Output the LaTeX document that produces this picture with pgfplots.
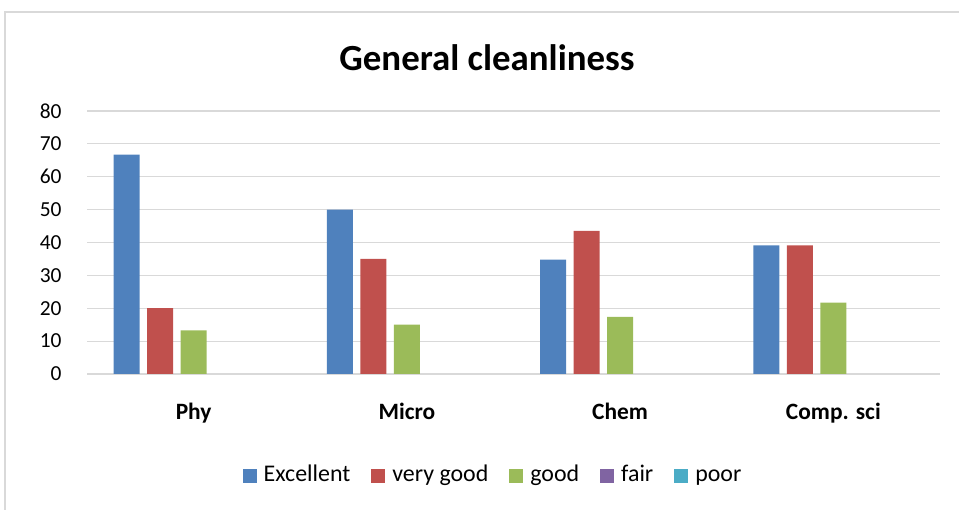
\documentclass[border=0pt]{standalone}
\usepackage{fontspec}
\setmainfont{Carlito}
\usepackage{pgfplots}
\pgfplotsset{compat=1.18}
\definecolor{cA}{HTML}{4F81BD}
\definecolor{cB}{HTML}{C0504D}
\definecolor{cC}{HTML}{9BBB59}
\definecolor{cD}{HTML}{8064A2}
\definecolor{cE}{HTML}{4BACC6}
\definecolor{gridc}{HTML}{D9D9D9}
\begin{document}
\begin{tikzpicture}[x=1bp,y=1bp]
\useasboundingbox (0,0) rectangle (959,510);
\draw[color=gridc, line width=1.5bp] (5,0) -- (5,498) -- (959,498);
\node[font=\fontsize{37}{40}\selectfont\bfseries, anchor=base, inner sep=0] at (487,439) {General cleanliness};
\begin{axis}[
  at={(87bp,136bp)}, anchor=south west,
  scale only axis, width=853bp, height=263bp,
  xmin=-0.5, xmax=3.5, ymin=0, ymax=80,
  ytick={0,10,...,80},
  xtick={0,1,2,3},
  xticklabels={Phy,Micro,Chem,Comp. sci},
  axis line style={draw=none},
  major tick style={draw=none},
  ymajorgrids,
  grid style={color=gridc, line width=1.2bp},
  /pgf/number format/assume math mode=true,
  yticklabel style={font=\fontsize{21.5}{24}\selectfont, anchor=east, xshift=-22bp},
  xticklabel style={font=\fontsize{23.5}{26}\selectfont\bfseries, yshift=-21bp},
  ybar=7.5bp, bar width=26bp,
  legend columns=5,
  legend style={at={(0.476,-0.388)}, anchor=center, draw=none, fill=none,
    font=\fontsize{24}{26}\selectfont,
    nodes={text height=16bp, text depth=5bp},
    /tikz/every odd column/.append style={column sep=5bp},
    /tikz/every even column/.append style={column sep=19bp}},
  legend image code/.code={\fill[#1] (0bp,-7bp) rectangle (14bp,7bp);},
]
\addplot[fill=cA, draw=none] coordinates {(0,66.7) (1,50) (2,34.8) (3,39.1)};
\addplot[fill=cB, draw=none] coordinates {(0,20) (1,35) (2,43.5) (3,39.1)};
\addplot[fill=cC, draw=none] coordinates {(0,13.3) (1,15) (2,17.4) (3,21.7)};
\addplot[fill=none, draw=none, legend image code/.code={\fill[cD] (0bp,-7bp) rectangle (14bp,7bp);}] coordinates {(0,0) (1,0) (2,0) (3,0)};
\addplot[fill=none, draw=none, legend image code/.code={\fill[cE] (0bp,-7bp) rectangle (14bp,7bp);}] coordinates {(0,0) (1,0) (2,0) (3,0)};
\legend{Excellent, very good, good, fair, poor}
\end{axis}
\end{tikzpicture}
\end{document}
